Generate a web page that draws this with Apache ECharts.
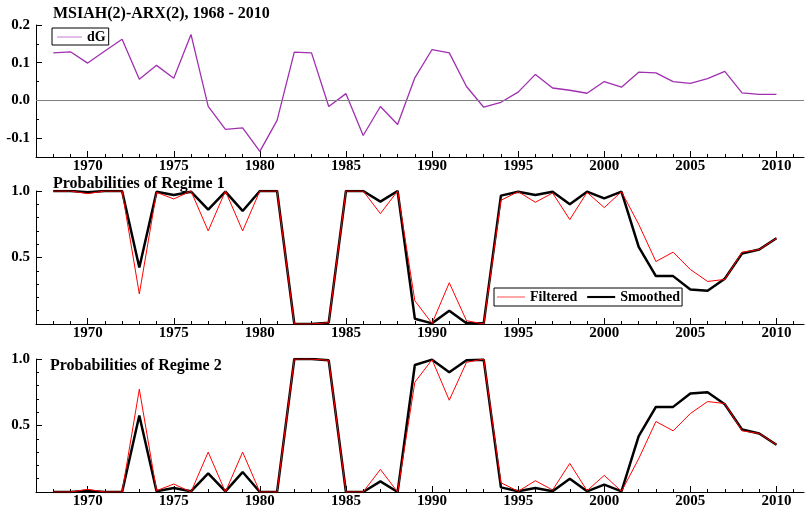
<!DOCTYPE html>
<html>
<head>
<meta charset="utf-8">
<script src="https://cdn.jsdelivr.net/npm/echarts@6/dist/echarts.min.js"></script>
<style>html,body{margin:0;padding:0;background:#fff;}#c{width:806px;height:516px;}</style>
</head>
<body>
<div id="c"></div>
<script>
var years = [1968,1969,1970,1971,1972,1973,1974,1975,1976,1977,1978,1979,1980,1981,1982,1983,1984,1985,1986,1987,1988,1989,1990,1991,1992,1993,1994,1995,1996,1997,1998,1999,2000,2001,2002,2003,2004,2005,2006,2007,2008,2009,2010];
var dG = [0.126,0.129,0.099,0.131,0.162,0.056,0.093,0.059,0.175,-0.016,-0.077,-0.073,-0.135,-0.053,0.128,0.126,-0.016,0.018,-0.093,-0.016,-0.064,0.060,0.135,0.126,0.037,-0.018,-0.005,0.022,0.069,0.033,0.027,0.019,0.050,0.035,0.075,0.073,0.050,0.045,0.058,0.077,0.020,0.016,0.016];
var reg1Filtered = [1.0,1.0,0.98,1.0,1.0,0.226,0.99,0.94,1.0,0.70,1.0,0.70,1.0,1.0,0.0,0.0,0.01,1.0,1.0,0.83,1.0,0.175,0.005,0.31,0.025,0.0,0.93,0.995,0.915,0.985,0.785,0.99,0.875,0.995,0.75,0.47,0.54,0.41,0.32,0.335,0.54,0.56,0.645];
var reg1Smoothed = [1.0,1.0,0.99,1.0,1.0,0.425,0.995,0.97,0.995,0.86,0.995,0.85,1.0,1.0,0.0,0.0,0.01,1.0,1.0,0.92,1.0,0.04,0.005,0.10,0.005,0.005,0.965,0.995,0.97,0.995,0.90,0.995,0.945,0.995,0.58,0.36,0.36,0.26,0.25,0.34,0.53,0.56,0.645];
var reg2Filtered = [0,0,0.02,0,0,0.773,0.01,0.06,0.0,0.30,0.0,0.30,0,0,1.0,1.0,0.99,0,0,0.17,0,0.825,0.995,0.69,0.975,1.0,0.07,0.005,0.085,0.015,0.215,0.01,0.125,0.005,0.25,0.53,0.46,0.59,0.68,0.665,0.46,0.44,0.355];
var reg2Smoothed = [0,0,0.01,0,0,0.575,0.005,0.03,0.005,0.14,0.005,0.15,0,0,1.0,1.0,0.99,0,0,0.08,0,0.955,0.995,0.90,0.99,0.995,0.035,0.005,0.03,0.005,0.10,0.005,0.055,0.005,0.42,0.64,0.64,0.74,0.75,0.66,0.47,0.44,0.355];
var xLabelYears = [1970,1975,1980,1985,1990,1995,2000,2005,2010];
var xMinorYears = [1967,1968,1969,1970,1971,1972,1973,1974,1975,1976,1977,1978,1979,1980,1981,1982,1983,1984,1985,1986,1987,1988,1989,1990,1991,1992,1993,1994,1995,1996,1997,1998,1999,2000,2001,2002,2003,2004,2005,2006,2007,2008,2009,2010,2011];
var dGTickLabels = [-0.1,0.0,0.1,0.2];
var dGMinorTicks = [-0.15,-0.1,-0.05,0.0,0.05,0.1,0.15,0.2];
var probTickLabels = [0.5,1.0];
var probMinorTicks = [0.1,0.2,0.3,0.4,0.5,0.6,0.7,0.8,0.9,1.0];

function pairs(v){ return years.map(function(y,i){ return [y, v[i]]; }); }

var FONT = 'Liberation Serif';
var labelStyle = {fontFamily: FONT, fontWeight: 'bold', fontSize: 15, color: '#000'};
var THIN_ICON = 'path://M0,0 L40,0 L40,1 L0,1 Z';
var THICK_ICON = 'path://M0,0 L40,0 L40,3 L0,3 Z';

var grids = [
  {left: 36, right: 2, top: 25, height: 132},
  {left: 36, right: 2, top: 191, height: 133},
  {left: 36, right: 2, top: 359, height: 133}
];

var xAxes = [], yAxes = [];
grids.forEach(function(g, gi){
  xAxes.push({
    type: 'value', gridIndex: gi, min: 1967, max: 2011.6, position: 'bottom',
    axisLine: {show: true, onZero: false, lineStyle: {color: '#000', width: 1}},
    axisTick: {show: true, inside: true, length: 3, customValues: xMinorYears, lineStyle: {color: '#000'}},
    axisLabel: Object.assign({show: true, margin: 2, customValues: xLabelYears, formatter: function(v){ return String(v); }}, labelStyle),
    splitLine: {show: false}
  });
  xAxes.push({
    type: 'value', gridIndex: gi, min: 1967, max: 2011.6, position: 'bottom',
    axisLine: {show: false, onZero: false},
    axisTick: {show: true, inside: true, length: 6, customValues: xLabelYears, lineStyle: {color: '#000'}},
    axisLabel: {show: false},
    splitLine: {show: false}
  });
  var isTop = gi === 0;
  yAxes.push({
    type: 'value', gridIndex: gi, min: isTop ? -0.15 : 0, max: isTop ? 0.2 : 1.0, position: 'left',
    axisLine: {show: true, onZero: false, lineStyle: {color: '#000', width: 1}},
    axisTick: {show: true, inside: true, length: 3, customValues: isTop ? dGMinorTicks : probMinorTicks, lineStyle: {color: '#000'}},
    axisLabel: Object.assign({show: true, margin: 6, customValues: isTop ? dGTickLabels : probTickLabels, formatter: function(v){ return v.toFixed(1); }}, labelStyle),
    splitLine: {show: false}
  });
  yAxes.push({
    type: 'value', gridIndex: gi, min: isTop ? -0.15 : 0, max: isTop ? 0.2 : 1.0, position: 'left',
    axisLine: {show: false, onZero: false},
    axisTick: {show: true, inside: true, length: 6, customValues: isTop ? dGTickLabels : probTickLabels, lineStyle: {color: '#000'}},
    axisLabel: {show: false},
    splitLine: {show: false}
  });
});

var chart = echarts.init(document.getElementById('c'), null, {renderer: 'canvas'});
chart.setOption({
  animation: false,
  backgroundColor: '#fff',
  title: [
    {text: 'MSIAH(2)-ARX(2), 1968 - 2010', left: 53, top: 6, padding: 0, textStyle: {fontFamily: FONT, fontWeight: 'bold', fontSize: 16, color: '#000'}},
    {text: 'Probabilities of Regime 1', left: 53, top: 176, padding: 0, textStyle: {fontFamily: FONT, fontWeight: 'bold', fontSize: 16, color: '#000'}},
    {text: 'Probabilities of Regime 2', left: 50, top: 358, padding: 0, textStyle: {fontFamily: FONT, fontWeight: 'bold', fontSize: 16, color: '#000'}}
  ],
  legend: [
    {data: [{name: 'dG', icon: THIN_ICON}], left: 52, top: 28, orient: 'horizontal', borderColor: '#000', borderWidth: 1, padding: [2, 3, 1, 5],
     itemWidth: 25, itemHeight: 10, itemGap: 8, textStyle: {fontFamily: FONT, fontWeight: 'bold', fontSize: 14, color: '#000'}},
    {data: [{name: 'Filtered', icon: THIN_ICON}, {name: 'Smoothed', icon: THICK_ICON}], left: 494, top: 288, orient: 'horizontal', borderColor: '#000', borderWidth: 1, padding: [2, 2, 2, 3],
     itemWidth: 28, itemHeight: 10, itemGap: 10, textStyle: {fontFamily: FONT, fontWeight: 'bold', fontSize: 14, color: '#000'}}
  ],
  grid: grids,
  xAxis: xAxes,
  yAxis: yAxes,
  series: [
    {name: 'dG', type: 'line', xAxisIndex: 0, yAxisIndex: 0, data: pairs(dG), symbol: 'none', showSymbol: false,
     lineStyle: {color: '#a030b0', width: 1.3}, itemStyle: {color: '#a030b0'},
     markLine: {silent: true, symbol: 'none', label: {show: false}, lineStyle: {color: '#808080', width: 1, type: 'solid'}, data: [{yAxis: 0}]}},
    {name: 'Filtered', type: 'line', xAxisIndex: 2, yAxisIndex: 2, data: pairs(reg1Filtered), symbol: 'none', showSymbol: false,
     lineStyle: {color: '#ff0000', width: 1}, itemStyle: {color: '#ff0000'}, z: 3},
    {name: 'Smoothed', type: 'line', xAxisIndex: 2, yAxisIndex: 2, data: pairs(reg1Smoothed), symbol: 'none', showSymbol: false,
     lineStyle: {color: '#000', width: 2.5}, itemStyle: {color: '#000'}, z: 2},
    {name: 'Filtered', type: 'line', xAxisIndex: 4, yAxisIndex: 4, data: pairs(reg2Filtered), symbol: 'none', showSymbol: false,
     lineStyle: {color: '#ff0000', width: 1}, itemStyle: {color: '#ff0000'}, z: 3},
    {name: 'Smoothed', type: 'line', xAxisIndex: 4, yAxisIndex: 4, data: pairs(reg2Smoothed), symbol: 'none', showSymbol: false,
     lineStyle: {color: '#000', width: 2.5}, itemStyle: {color: '#000'}, z: 2}
  ]
});
</script>
</body>
</html>
